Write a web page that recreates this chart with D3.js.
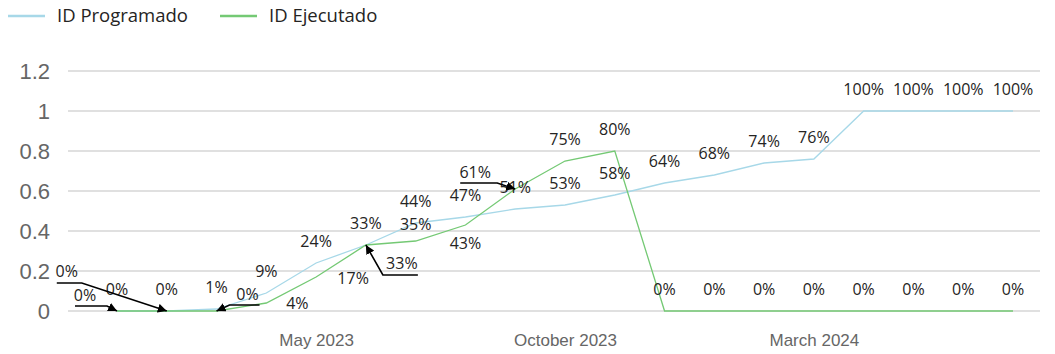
<!DOCTYPE html>
<html>
<head>
<meta charset="utf-8">
<script src="https://cdn.jsdelivr.net/npm/d3@7"></script>
<style>
  html, body { margin: 0; padding: 0; background: #fff; }
  svg { display: block; font-family: "Segoe UI", "Open Sans", "Noto Sans", sans-serif; }
</style>
</head>
<body>
<svg id="chart" width="1055" height="354"></svg>
<script>
// ---- data ----
const months = ["2023-01","2023-02","2023-03","2023-04","2023-05","2023-06","2023-07","2023-08","2023-09","2023-10","2023-11","2023-12","2024-01","2024-02","2024-03","2024-04","2024-05","2024-06","2024-07"];
const programado = [0, 0, 0.01, 0.09, 0.24, 0.33, 0.44, 0.47, 0.51, 0.53, 0.58, 0.64, 0.68, 0.74, 0.76, 1, 1, 1, 1];
const ejecutado  = [0, 0, 0, 0.04, 0.17, 0.33, 0.35, 0.43, 0.61, 0.75, 0.80, 0, 0, 0, 0, 0, 0, 0, 0];
const yTicks = [0, 0.2, 0.4, 0.6, 0.8, 1, 1.2];
const xTicks = ["2023-05", "2023-10", "2024-03"];
const seriesNames = ["ID Programado", "ID Ejecutado"];

// ---- layout / style ----
const colors = ["#a7d8e8", "#74c974"];
const svg = d3.select("#chart");

const x = d3.scalePoint().domain(months).range([117, 1013]);
const y = d3.scaleLinear().domain([0, 1.2]).range([311, 71]);
const parseM = d3.timeParse("%Y-%m");
const fmtM = d3.timeFormat("%B %Y");
const pct = d3.format(".0%");

// label offsets (dx, dy) relative to each point; default above the point
const defaultOffset = [0, -22];
const labelOffsets = [
  {},                                    // programado
  {3: [31, 0], 4: [37, 1], 6: [0, -17], 7: [0, 18]} // ejecutado
];
// labels moved away with a leader arrow: series, index, label offset, underline extent relative to label
const arrowLabels = [
  {s: 1, i: 1, dx: -100, dy: -40, u0: -10, u1: 15, uy: 12},
  {s: 1, i: 0, dx: -32,  dy: -16, u0: -10, u1: 22, uy: 11},
  {s: 1, i: 2, dx: 31,   dy: -17, u0: 12,  u1: -18, uy: 11},
  {s: 1, i: 5, dx: 36,   dy: 18,  u0: 16,  u1: -19, uy: 12},
  {s: 1, i: 8, dx: -40,  dy: -17, u0: -15, u1: 22, uy: 11}
];

// ---- gridlines + y axis ----
const yAxis = d3.axisLeft(y).tickValues(yTicks).tickFormat(d3.format("~g")).tickSize(0).tickPadding(0);
const gy = svg.append("g").attr("transform", "translate(50,0)").call(yAxis);
gy.select(".domain").remove();
gy.selectAll("text").attr("fill", "#666").attr("font-size", 22).attr("font-family", null);

svg.append("g").selectAll("line").data(yTicks).join("line")
  .attr("x1", 68).attr("x2", 1040)
  .attr("y1", d => y(d)).attr("y2", d => y(d))
  .attr("stroke", "#e0e0e0").attr("stroke-width", 2);

// ---- x axis ----
const xAxis = d3.axisBottom(x).tickValues(xTicks).tickFormat(d => fmtM(parseM(d))).tickSize(0).tickPadding(0);
const gx = svg.append("g").attr("transform", "translate(0,334)").call(xAxis);
gx.select(".domain").remove();
gx.selectAll("text").attr("fill", "#666").attr("font-size", 17).attr("font-family", null).attr("dy", "0.71em");

// ---- lines ----
const series = [programado, ejecutado];
const line = d3.line().x((d, i) => x(months[i])).y(d => y(d));
series.forEach((vals, s) => {
  svg.append("path").datum(vals)
    .attr("d", line)
    .attr("fill", "none")
    .attr("stroke", colors[s])
    .attr("stroke-width", 1.3);
});

// ---- data labels ----
const arrowed = new Set(arrowLabels.map(a => a.s + "-" + a.i));
const lblG = svg.append("g").attr("font-size", 16).attr("fill", "#252423").attr("text-anchor", "middle");
series.forEach((vals, s) => {
  vals.forEach((v, i) => {
    if (arrowed.has(s + "-" + i)) return;
    const off = labelOffsets[s][i] || defaultOffset;
    lblG.append("text")
      .attr("x", x(months[i]) + off[0])
      .attr("y", y(v) + off[1])
      .attr("dy", "0.35em")
      .text(pct(v));
  });
});

// ---- arrow annotations ----
svg.append("defs").append("marker")
  .attr("id", "ah").attr("viewBox", "0 0 10 10")
  .attr("refX", 10).attr("refY", 5)
  .attr("markerWidth", 9).attr("markerHeight", 9)
  .attr("markerUnits", "userSpaceOnUse")
  .attr("orient", "auto")
  .append("path").attr("d", "M0,0 L10,5 L0,10 z").attr("fill", "#000");

const arrG = svg.append("g");
arrowLabels.forEach(a => {
  const v = series[a.s][a.i];
  const px = x(months[a.i]), py = y(v);
  const lx = px + a.dx, ly = py + a.dy;
  lblG.append("text").attr("x", lx).attr("y", ly).attr("dy", "0.35em").text(pct(v));
  const p = d3.path();
  p.moveTo(lx + a.u0, ly + a.uy);
  p.lineTo(lx + a.u1, ly + a.uy);
  p.lineTo(px, py);
  arrG.append("path").attr("d", p.toString())
    .attr("fill", "none").attr("stroke", "#000").attr("stroke-width", 1.6)
    .attr("marker-end", "url(#ah)");
});

// ---- legend ----
const legendX = [8, 220];
const leg = svg.append("g");
seriesNames.forEach((name, s) => {
  const g = leg.append("g").attr("transform", `translate(${legendX[s]},16)`);
  g.append("line").attr("x1", 0).attr("x2", 37).attr("y1", 0).attr("y2", 0)
    .attr("stroke", colors[s]).attr("stroke-width", 2.5);
  g.append("text").attr("x", 49).attr("y", 0).attr("dy", "0.35em")
    .attr("font-size", 18.5).attr("fill", "#252423").text(name);
});
</script>
</body>
</html>
